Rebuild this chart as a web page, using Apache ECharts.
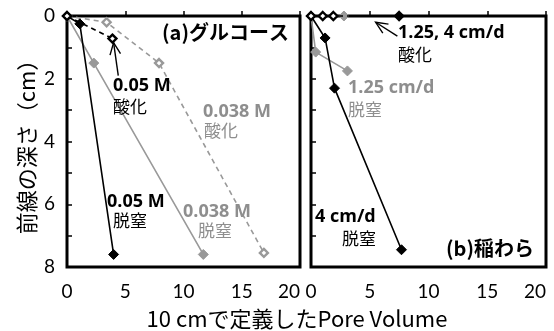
<!DOCTYPE html>
<html><head><meta charset="utf-8">
<script src="https://cdn.jsdelivr.net/npm/echarts@6/dist/echarts.min.js"></script>
<style>html,body{margin:0;padding:0;background:#fff}#c{width:554px;height:331px}</style>
</head><body><div id="c"></div>
<script>
// Panel (a) グルコース : [Pore Volume, depth cm]
const glucDen005 = [[0,0],[1.1,0.25],[4.0,7.6]];
const glucOx005 = [[0,0],[3.9,0.72]];
const glucOx0038 = [[0,0],[3.4,0.2],[7.9,1.5],[16.9,7.55]];
const glucDen0038 = [[0,0],[2.3,1.5],[11.7,7.6]];
// Panel (b) 稲わら
const strawDen4 = [[0,0],[1.2,0.7],[2.0,2.3],[7.7,7.45]];
const strawDen125 = [[0,0],[0.4,1.15],[3.1,1.75]];
const strawOx4 = [[0,0],[1.0,0],[1.9,0],[7.5,0]];
const strawOx125 = [[0,0],[2.8,0]];
// annotation arrows [tail, tip] in data coordinates
const arrowA = [[4.4,1.9],[4.0,0.85]];
const arrowB = [[7.35,0.64],[5.5,0.2]];

const BLACK='#000', GRAY='#999', GRAYT='#8e8e8e';

function ser(name, data, xi, color, dashed, open){
  return {
    name, type:'line', data, xAxisIndex:xi, yAxisIndex:xi, clip:false,
    symbol:'diamond', symbolSize: open?8:10,
    lineStyle:{color, width:1.6, type: dashed?[5,4]:'solid'},
    itemStyle: open?{color:'#fff', borderColor:color, borderWidth:2.4}:{color, borderColor:color, borderWidth:1},
    emphasis:{disabled:true}, animation:false, z: color===BLACK?5:3
  };
}

const xAxisBase = {type:'value', min:0, max:20, interval:5,
  axisLine:{show:false}, splitLine:{show:false},
  axisTick:{inside:true, length:5, lineStyle:{color:'#000', width:1.5}}};
const xLabel = {fontFamily:'Lato', fontSize:19, color:'#000', margin:15, alignMaxLabel:'right'};
const yAxisBase = {type:'value', min:0, max:8, interval:1, inverse:true,
  axisLine:{show:false}, splitLine:{show:false},
  axisTick:{inside:true, length:5, lineStyle:{color:'#000', width:1.5}}};

const F_B='bold 18px "Open Sans","Noto Sans CJK JP"';
const F_J='17px "Noto Sans CJK JP"';
const F_T='bold 20px "Noto Sans CJK JP"';
const t=(x,y,s,fill,font)=>({type:'text', x, y, z:10, style:{text:s, fill, font, textAlign:'left', textVerticalAlign:'middle'}});

const chart = echarts.init(document.getElementById('c'), null, {renderer:'canvas'});
const texts = [
    t(162,32,'(a)グルコース',BLACK,F_T),
    t(446,248,'(b)稲わら',BLACK,F_T),
    t(113,86,'0.05 M',BLACK,F_B),
    t(113,107,'酸化',BLACK,F_J),
    t(203,112,'0.038 M',GRAYT,F_B),
    t(204,131,'酸化',GRAYT,F_J),
    t(107,202,'0.05 M',BLACK,F_B),
    t(113,221,'脱窒',BLACK,F_J),
    t(183,212,'0.038 M',GRAYT,F_B),
    t(198,231,'脱窒',GRAYT,F_J),
    t(398,33,'1.25, 4 cm/d',BLACK,F_B),
    t(398,55,'酸化',BLACK,F_J),
    t(348,88,'1.25 cm/d',GRAYT,F_B),
    t(348,110,'脱窒',GRAYT,F_J),
    t(315,217,'4 cm/d',BLACK,F_B),
    t(342,239,'脱窒',BLACK,F_J),
    {type:'text', x:297, y:319, style:{text:'10 cmで定義したPore Volume', fill:BLACK, font:'22px "Noto Sans CJK JP"', textAlign:'center', textVerticalAlign:'middle'}}
];
chart.setOption({
  animation:false,
  grid:[
    {left:67, top:16, width:233, height:251, show:true, borderColor:'#000', borderWidth:3, backgroundColor:'transparent'},
    {left:311, top:16, width:235, height:251, show:true, borderColor:'#000', borderWidth:3, backgroundColor:'transparent'}
  ],
  xAxis:[
    Object.assign({gridIndex:0, axisLabel:xLabel}, xAxisBase),
    Object.assign({gridIndex:1, axisLabel:xLabel}, xAxisBase)
  ],
  yAxis:[
    Object.assign({gridIndex:0, name:'前線の深さ（cm）', nameLocation:'middle', nameGap:29, nameRotate:90,
      nameTextStyle:{fontFamily:'"Noto Sans CJK JP"', fontSize:22, color:'#000'},
      axisLabel:{fontFamily:'Lato', fontSize:19, color:'#000', margin:12, formatter:v=> v%2===0? String(v):''}}, yAxisBase),
    Object.assign({gridIndex:1, axisLabel:{show:false}}, yAxisBase)
  ],
  series:[
    ser('0.038M酸化', glucOx0038, 0, GRAY, true, true),
    ser('0.038M脱窒', glucDen0038, 0, GRAY, false, false),
    ser('0.05M脱窒', glucDen005, 0, BLACK, false, false),
    ser('0.05M酸化', glucOx005, 0, BLACK, true, true),
    ser('1.25酸化', strawOx125, 1, GRAY, true, false),
    ser('1.25脱窒', strawDen125, 1, GRAY, false, false),
    ser('4脱窒', strawDen4, 1, BLACK, false, false),
    ser('4酸化', strawOx4.map((p,i)=> i===strawOx4.length-1 ? {value:p, itemStyle:{color:BLACK}} : p), 1, BLACK, true, true)
  ],
  graphic: texts
});
// open arrowheads placed through the axes' own scales
function arrowGraphic(gi, pts){
  const a = chart.convertToPixel({gridIndex:gi}, pts[0]);
  const b = chart.convertToPixel({gridIndex:gi}, pts[1]);
  const ang = Math.atan2(b[1]-a[1], b[0]-a[0]);
  const L = 13, spread = 0.42;
  const h1 = [b[0]-L*Math.cos(ang-spread), b[1]-L*Math.sin(ang-spread)];
  const h2 = [b[0]-L*Math.cos(ang+spread), b[1]-L*Math.sin(ang+spread)];
  const st = {stroke:BLACK, lineWidth:1.4, fill:null};
  return [
    {type:'polyline', z:9, shape:{points:[a,b]}, style:st},
    {type:'polyline', z:9, shape:{points:[h1,b,h2]}, style:st}
  ];
}
chart.setOption({graphic: texts.concat(arrowGraphic(0, arrowA), arrowGraphic(1, arrowB))}, {replaceMerge:['graphic']});
</script></body></html>
